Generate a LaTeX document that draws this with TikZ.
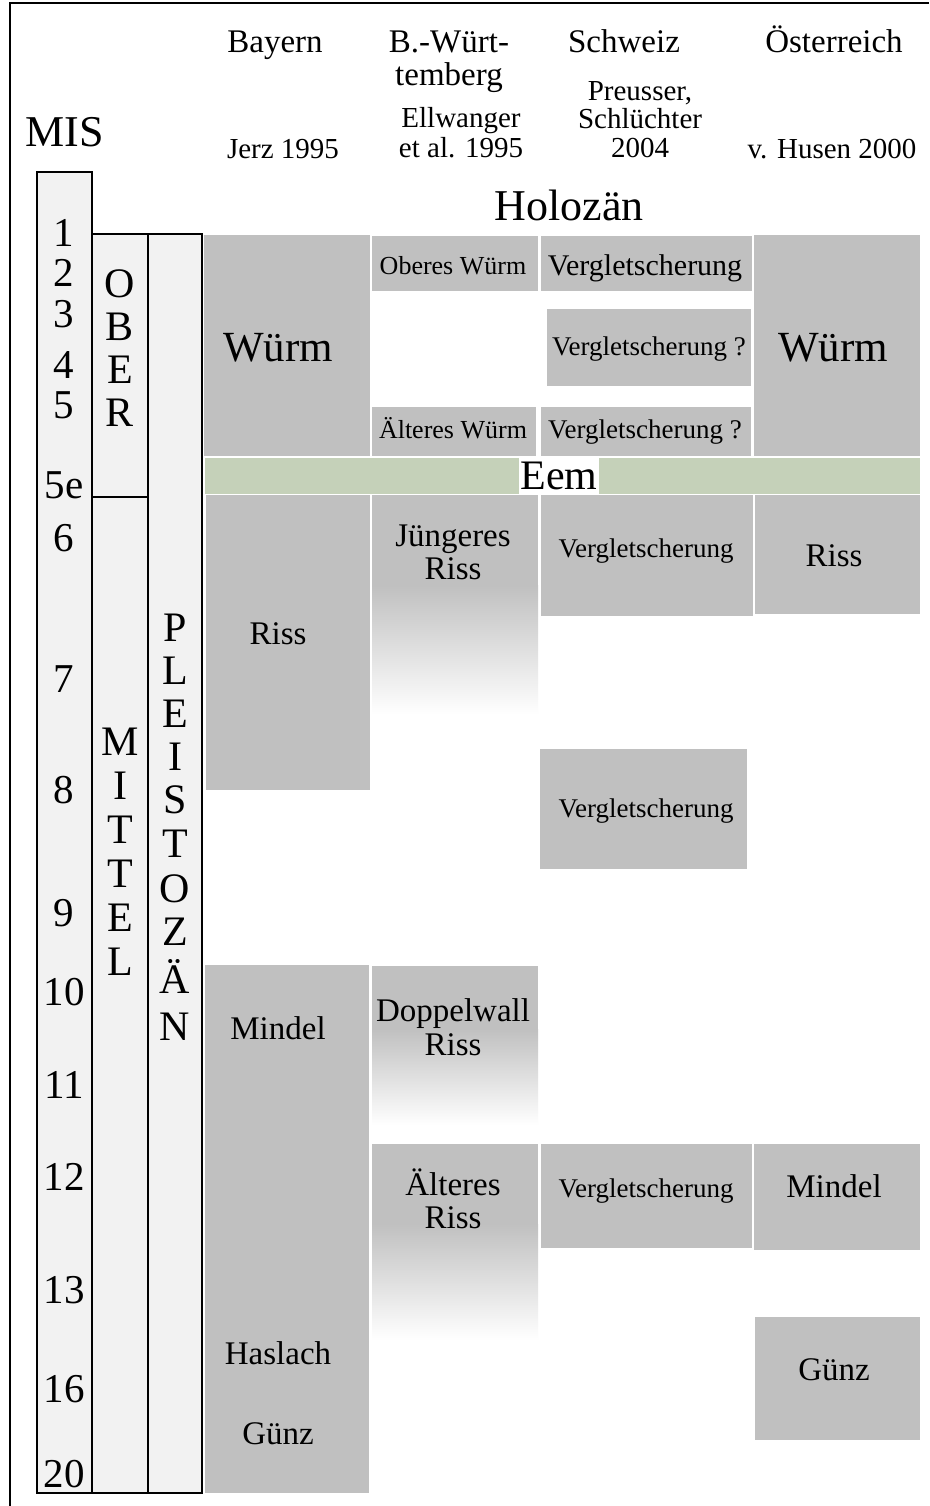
\documentclass[tikz,border=0pt]{standalone}
\usepackage{fontspec}
\setmainfont{Liberation Serif}
\definecolor{gr}{RGB}{192,192,192}
\definecolor{eemc}{RGB}{197,209,185}
\definecolor{pale}{RGB}{242,242,242}
\newcommand{\fsz}[1]{\fontsize{#1}{#1}\selectfont}
\begin{document}
\begin{tikzpicture}[x=1pt,y=-1pt,
  gbox/.style={fill=gr},
  colbox/.style={draw=black, line width=2.4pt, fill=pale},
  txt/.style={inner sep=0pt, anchor=base},
  hd/.style={txt, font=\fsz{33}},
  sub/.style={txt, font=\fsz{29}},
  big/.style={txt, font=\fsz{43}},
  mid/.style={txt, font=\fsz{33}},
  sm/.style={txt, font=\fsz{27}},
  num/.style={txt, font=\fsz{41}},
  let/.style={txt, font=\fsz{42}}]
\useasboundingbox (0,0) rectangle (929,1506);
\fill[white] (0,0) rectangle (929,1506);
% frame
\draw[line width=2.5pt] (10,1506) -- (10,3) -- (929,3);

% MIS columns
\path[colbox] (37,172) rectangle (92,1493);
\path[colbox] (92,234) rectangle (148,497);
\path[colbox] (92,497) rectangle (148,1493);
\path[colbox] (148,234) rectangle (202,1493);

% headers
\node[txt, font=\fsz{44}] (mis) at (65,147) {MIS};
\node[hd] (hbay) at (275,53) {Bayern};
\node[hd] (hbw1) at (449,53) {B.-Würt-};
\node[hd] (hbw2) at (449,86) {temberg};
\node[hd] (hch) at (624,53) {Schweiz};
\node[hd] (hat) at (834,53) {Österreich};
\node[sub] (sbay) at (283,159) {Jerz 1995};
\node[sub] (sbw1) at (461,128) {Ellwanger};
\node[sub] (sbw2) at (461,158) {et al. 1995};
\node[sub] (sch1) at (640,101) {Preusser,};
\node[sub] (sch2) at (640,129) {Schlüchter};
\node[sub] (sch3) at (640,158) {2004};
\node[sub] (sat) at (832,159) {v. Husen 2000};
\node[txt, font=\fsz{44}] (holo) at (569,221) {Holozän};

% Würm row
\path[gbox] (204,235) rectangle (370,456);
\path[gbox] (372,236) rectangle (538,291);
\path[gbox] (541,236) rectangle (752,291);
\path[gbox] (547,309) rectangle (751,386);
\path[gbox] (372,407) rectangle (536,456);
\path[gbox] (541,407) rectangle (751,456);
\path[gbox] (754,235) rectangle (920,456);
\node[big] (wbay) at (278,361) {Würm};
\node[txt, font=\fsz{26}] (wob) at (453,274) {Oberes Würm};
\node[txt, font=\fsz{30}] (wch1) at (645,275) {Vergletscherung};
\node[sm] (wch2) at (649,355) {Vergletscherung ?};
\node[txt, font=\fsz{26}] (wal) at (453,438) {Älteres Würm};
\node[sm] (wch3) at (645,438) {Vergletscherung ?};
\node[big] (wat) at (833,361) {Würm};

% Eem
\path[fill=eemc] (205,458) rectangle (920,494);
\node[fill=white, inner xsep=2pt, inner ysep=0pt, minimum height=37pt, font=\fsz{42}] (eem) at (559,476) {Eem};

% Riss row
\path[gbox] (206,495) rectangle (370,790);
\path[gbox] (372,495) rectangle (538,586);
\shade[top color=gr, bottom color=white] (372,585) rectangle (538,715);
\path[gbox] (541,495) rectangle (753,616);
\path[gbox] (755,495) rectangle (920,614);
\node[mid] (rbay) at (278,644) {Riss};
\node[mid] (rbw1) at (453,546) {Jüngeres};
\node[mid] (rbw2) at (453,579) {Riss};
\node[sm] (rch) at (646,557) {Vergletscherung};
\node[mid] (rat) at (834,566) {Riss};

% MIS 8
\path[gbox] (540,749) rectangle (747,869);
\node[sm] (ch8) at (646,817) {Vergletscherung};

% Mindel row
\path[gbox] (205,965) rectangle (369,1493);
\path[gbox] (372,966) rectangle (538,1030);
\shade[top color=gr, bottom color=white] (372,1029) rectangle (538,1125);
\path[gbox] (372,1144) rectangle (538,1225);
\shade[top color=gr, bottom color=white] (372,1224) rectangle (538,1340);
\path[gbox] (541,1144) rectangle (752,1248);
\path[gbox] (754,1144) rectangle (920,1250);
\path[gbox] (755,1317) rectangle (920,1440);
\node[mid] (mbay) at (278,1039) {Mindel};
\node[mid] (dbw1) at (453,1021) {Doppelwall};
\node[mid] (dbw2) at (453,1055) {Riss};
\node[mid] (abw1) at (453,1195) {Älteres};
\node[mid] (abw2) at (453,1228) {Riss};
\node[sm] (ch12) at (646,1197) {Vergletscherung};
\node[mid] (mat) at (834,1197) {Mindel};
\node[mid] (gat) at (834,1380) {Günz};
\node[mid] (hbay2) at (278,1364) {Haslach};
\node[mid] (gbay) at (278,1444) {Günz};

% MIS numbers
\foreach \t/\yy [count=\i] in {1/247,2/287,3/327,4/378,5/418,5e/498,6/551,7/692,8/803,9/926,10/1005,11/1098,12/1190,13/1303,16/1402,20/1487}
  \node[num] (n\i) at (64,\yy) {\t};

% OBER
\foreach \t/\yy [count=\i] in {O/297,B/340,E/383,R/426}
  \node[let] (ob\i) at (120,\yy) {\t};
% MITTEL
\foreach \t/\yy [count=\i] in {M/755,I/799,T/843,T/887,E/931,L/975}
  \node[let] (mi\i) at (120,\yy) {\t};
% PLEISTOZAEN
\foreach \t/\yy [count=\i] in {P/641,L/684,E/727,I/770,S/813,T/857,O/902,Z/945,Ä/993,N/1040}
  \node[let] (pl\i) at (175,\yy) {\t};
\end{tikzpicture}
\end{document}
